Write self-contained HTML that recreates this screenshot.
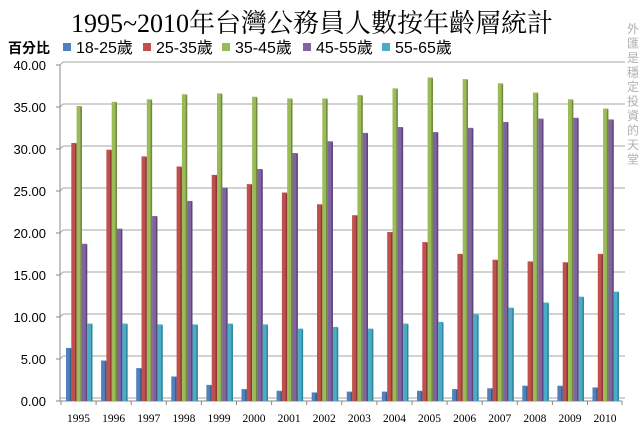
<!DOCTYPE html>
<html><head><meta charset="utf-8"><style>
html,body{margin:0;padding:0;background:#fff;}
svg{display:block;font-family:"Liberation Sans","Noto Sans CJK TC",sans-serif;}
</style></head><body>
<svg id="c" width="640" height="433" xmlns="http://www.w3.org/2000/svg">
<text x="312" y="32" text-anchor="middle" font-family="Liberation Serif,'Noto Serif CJK SC',serif" font-size="26" fill="#000">1995~2010年台灣公務員人數按年齡層統計</text>
<text x="8" y="53" font-size="14" font-weight="bold" fill="#000">百分比</text>
<g font-size="16" fill="#000">
<rect x="63" y="43" width="8" height="8" fill="#4f81bd"/><text x="76" y="53">18-25歲</text>
<rect x="143" y="43" width="8" height="8" fill="#c0504d"/><text x="156" y="53">25-35歲</text>
<rect x="222" y="43" width="8" height="8" fill="#9bbb59"/><text x="235" y="53">35-45歲</text>
<rect x="303" y="43" width="8" height="8" fill="#8064a2"/><text x="316" y="53">45-55歲</text>
<rect x="382" y="43" width="8" height="8" fill="#4bacc6"/><text x="395" y="53">55-65歲</text>
</g>
<g id="vt" font-size="12" fill="#b0b0b0" text-anchor="middle"></g>
<g id="g"></g>
</svg>
<script>
(function(){
var ns="http://www.w3.org/2000/svg",g=document.getElementById('g');
function el(t,a,txt){var e=document.createElementNS(ns,t);for(var k in a)e.setAttribute(k,a[k]);if(txt!==undefined)e.textContent=txt;g.appendChild(e);return e;}
var vt="外匯是穩定投資的天堂";
for(var i=0;i<vt.length;i++){var e=document.createElementNS(ns,'text');e.setAttribute('x',633);e.setAttribute('y',33+i*14.5);e.textContent=vt[i];document.getElementById('vt').appendChild(e);}
var Y0=401,S=8.4;
for(var v=0;v<=40;v+=5){
 var y=Y0-S*v;
 if(v>0){el('line',{x1:63,y1:y-3,x2:625,y2:y-3,stroke:'#a6a6a6','stroke-width':1});
  el('line',{x1:60,y1:y,x2:63,y2:y-3,stroke:'#a6a6a6'});}
 el('line',{x1:56,y1:y,x2:60,y2:y,stroke:'#888'});
 el('text',{x:46,y:y+5,'text-anchor':'end','font-size':13,fill:'#000'},v.toFixed(2));
}
el('line',{x1:60,y1:Y0,x2:622,y2:Y0,stroke:'#888'});
el('line',{x1:60,y1:Y0-3,x2:625,y2:Y0-3,stroke:'#a6a6a6'});
el('line',{x1:60,y1:Y0-S*40,x2:60,y2:Y0,stroke:'#888'});
var D=[[6.2,4.7,3.8,2.8,1.8,1.3,1.1,0.9,1.0,1.0,1.1,1.3,1.4,1.7,1.7,1.5],
[30.6,29.8,29.0,27.8,26.8,25.7,24.7,23.3,22.0,20.0,18.8,17.4,16.7,16.5,16.4,17.4],
[35.0,35.5,35.8,36.4,36.5,36.1,35.9,35.9,36.3,37.1,38.4,38.2,37.7,36.6,35.8,34.7],
[18.6,20.4,21.9,23.7,25.3,27.5,29.4,30.8,31.8,32.5,31.9,32.4,33.1,33.5,33.6,33.4],
[9.1,9.1,9.0,9.0,9.1,9.0,8.5,8.7,8.5,9.1,9.3,10.2,11.0,11.6,12.3,12.9]];
var C=['#4f81bd','#c0504d','#9bbb59','#8064a2','#4bacc6'],Dk=['#385d8a','#8c3836','#71893f','#5c4776','#31859c'];
var cw=35.1,x0=61;
for(var c=0;c<16;c++){
 var cx=x0+c*cw;
 el('line',{x1:cx,y1:Y0,x2:cx,y2:Y0+4,stroke:'#888'});
 el('text',{x:cx+cw/2,y:Y0+21,'text-anchor':'middle','font-size':11.5,'font-family':'Liberation Serif,serif',fill:'#000'},String(1995+c));
 for(var s=0;s<5;s++){
  var bx=cx+5+s*5.3,h=D[s][c]*S+1,ty=Y0-h;
  el('rect',{x:bx,y:ty,width:5.3,height:h,fill:C[s]});
  el('rect',{x:bx+3.8,y:ty+1,width:1.5,height:h-1,fill:Dk[s]});
 }
}
el('line',{x1:622,y1:Y0,x2:622,y2:Y0+4,stroke:'#888'});
})();
</script>
</body></html>
